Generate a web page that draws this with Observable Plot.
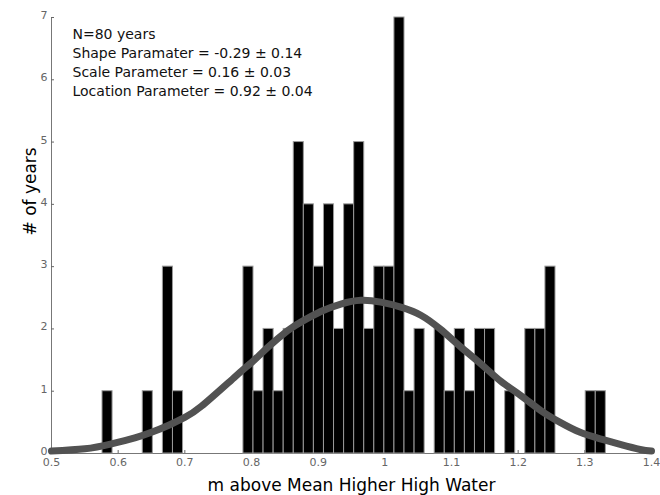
<!DOCTYPE html>
<html><head><meta charset="utf-8">
<script src="https://cdn.jsdelivr.net/npm/d3@7"></script>
<script src="https://cdn.jsdelivr.net/npm/@observablehq/plot@0.6"></script>
<style>
html,body{margin:0;padding:0;background:#fff;}
#chart{width:660px;height:495px;}
</style></head><body><div id="chart"></div>
<script>
// Histogram (50 bins, MATLAB hist style)
const firstEdge = 0.5765;
const binWidth = 0.0151;
const counts = [1,0,0,0,1,0,3,1,0,0,0,0,0,0,3,1,2,1,2,5,4,3,4,2,4,5,2,3,3,7,1,2,0,2,1,2,1,2,2,0,1,0,2,2,3,0,0,0,1,1];
// Fitted GEV curve
const curveX = [0.50,0.55,0.59,0.625,0.65,0.675,0.70,0.725,0.774,0.804,0.824,0.854,0.874,0.904,0.934,0.964,0.994,1.024,1.054,1.084,1.114,1.144,1.174,1.204,1.234,1.263,1.293,1.323,1.353,1.383,1.40];
const curveY = [0.04,0.075,0.155,0.25,0.34,0.45,0.58,0.76,1.22,1.50,1.70,1.97,2.11,2.28,2.40,2.46,2.43,2.35,2.22,1.99,1.71,1.44,1.16,0.93,0.69,0.50,0.34,0.235,0.145,0.064,0.04];
const xTicks = [0.5,0.6,0.7,0.8,0.9,1,1.1,1.2,1.3,1.4];
const yTicks = [0,1,2,3,4,5,6,7];
const annotation = ["N=80 years","Shape Paramater = -0.29 \u00b1 0.14","Scale Parameter = 0.16 \u00b1 0.03","Location Parameter = 0.92 \u00b1 0.04"];
const xLabel = "m above Mean Higher High Water";
const yLabel = "# of years";

const bins = counts.map((c,i)=>({x1:firstEdge+i*binWidth, x2:firstEdge+(i+1)*binWidth, count:c})).filter(d=>d.count>0);
const curve = curveX.map((x,i)=>({x, y:curveY[i]}));

const chart = Plot.plot({
  width:660, height:495,
  marginLeft:51, marginRight:9, marginTop:17, marginBottom:42,
  style:{fontFamily:"'DejaVu Sans', sans-serif", background:"#fff", color:"#000"},
  x:{domain:[0.5,1.4]},
  y:{domain:[0,7]},
  marks:[
    Plot.ruleX([0.5],{stroke:"#777"}),
    Plot.ruleY([0],{stroke:"#777"}),
    Plot.axisX(xTicks,{tickSize:-3, tickPadding:8, tickFormat:d3.format("~g"), fontSize:11, color:"#666", label:null}),
    Plot.axisY(yTicks,{tickSize:-3, tickFormat:()=>"", color:"#666", label:null}),
    Plot.axisY(yTicks,{tickSize:0, tickPadding:4, dy:-2, tickFormat:d3.format("d"), fontSize:11, color:"#666", label:null}),
    Plot.rectY(bins,{x1:"x1", x2:"x2", y:"count", fill:"#000", stroke:"#9a9a9a", strokeWidth:1}),
    Plot.line(curve,{x:"x", y:"y", stroke:"#525252", strokeWidth:7, curve:"natural"}),
    Plot.text([annotation.join("\n")],{text:d=>d, frameAnchor:"top-left", textAnchor:"start", lineAnchor:"top", dx:21, dy:8, fontSize:14, lineHeight:1.357, fill:"#111"}),
    Plot.text([xLabel],{text:d=>d, frameAnchor:"bottom", lineAnchor:"middle", dy:32, fontSize:17, fill:"#000"}),
    Plot.text([yLabel],{text:d=>d, frameAnchor:"left", lineAnchor:"middle", rotate:-90, dx:-21, fontSize:17, fill:"#000"})
  ]
});
document.getElementById("chart").appendChild(chart);
</script></body></html>
